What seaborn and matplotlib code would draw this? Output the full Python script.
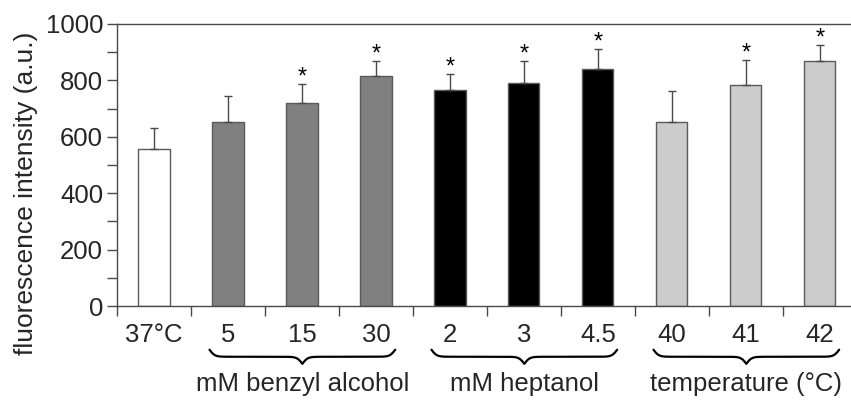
import numpy as np
import pandas as pd
import matplotlib
matplotlib.use("Agg")
import matplotlib.pyplot as plt
import matplotlib.transforms as mtransforms
import seaborn as sns

# Conditions and measurements
conditions = ["37°C", "5", "15", "30", "2", "3", "4.5", "40", "41", "42"]
mean_intensity = [557, 651, 721, 816, 767, 792, 842, 651, 785, 868]
sd_intensity = [75, 95, 66, 52, 56, 76, 69, 110, 88, 57]
significant = [False, False, True, True, True, True, True, False, True, True]
bar_colors = ["#ffffff", "#808080", "#808080", "#808080",
              "#000000", "#000000", "#000000",
              "#cccccc", "#cccccc", "#cccccc"]
groups = ["mM benzyl alcohol", "mM heptanol", "temperature (°C)"]
group_members = [(1, 3), (4, 6), (7, 9)]
yticks = [0, 200, 400, 600, 800, 1000]

sns.set_theme(style="ticks")
plt.rcParams["font.family"] = ["Liberation Sans", "DejaVu Sans"]

FS = 18.5

fig = plt.figure(figsize=(8.51, 4.03), dpi=100)
ax = fig.add_axes([117 / 851, 97 / 403, 734 / 851, 282 / 403])

df = pd.DataFrame({"condition": conditions, "intensity": mean_intensity})
sns.barplot(data=df, x="condition", y="intensity", hue="condition",
            palette=bar_colors, legend=False, width=0.42,
            edgecolor="#5a5a5a", linewidth=1.0, ax=ax, errorbar=None)

x = np.arange(len(conditions))
ax.errorbar(x, mean_intensity, yerr=[np.zeros(len(x)), sd_intensity],
            fmt="none", ecolor="#4a4a4a", elinewidth=1.0, capsize=3.2,
            capthick=1.0, zorder=1)

for xi, m, s, sig in zip(x, mean_intensity, sd_intensity, significant):
    if sig:
        ax.annotate("*", xy=(xi, m + s), xytext=(0, 0.5),
                    textcoords="offset points", ha="center", va="baseline",
                    fontsize=17, color="black")

ax.set_ylim(0, 1000)
ax.set_xlim(-0.5, 9.42)
ax.set_yticks(yticks)
ax.set_yticks(np.arange(100, 1000, 200), minor=True)
ax.set_xticks(x, conditions)
ax.set_xticks(np.arange(-0.5, 9.5, 1.0), minor=True)
ax.tick_params(axis="x", which="major", length=0, pad=12, labelsize=FS)
ax.tick_params(axis="x", which="minor", length=7, width=1.0, color="#4a4a4a")
ax.tick_params(axis="y", which="both", length=7, width=1.0, color="#4a4a4a",
               labelsize=FS, pad=3)
ax.set_xlabel("")
ax.set_ylabel("fluorescence intensity (a.u.)", fontsize=19)
ax.yaxis.set_label_coords(-0.108, 0.40)

for side in ["left", "bottom", "top"]:
    ax.spines[side].set_color("#4a4a4a")
    ax.spines[side].set_linewidth(1.0)
ax.spines["right"].set_visible(False)

# Curly braces grouping the treatment conditions
trans = mtransforms.blended_transform_factory(ax.transData, ax.transAxes)


def curly_brace(x0, x1, y_end, y_tip, beta=28.0, n=400):
    xs = np.linspace(x0, x1, n + 1)
    half = xs[: n // 2 + 1]
    yh = (1 / (1 + np.exp(-beta * (half - half[0])))
          + 1 / (1 + np.exp(-beta * (half - half[-1]))))
    ys = np.concatenate((yh, yh[-2::-1]))
    ys = y_end + (y_tip - y_end) * (ys - 0.5)
    ax.plot(xs, ys, color="black", lw=1.6, transform=trans, clip_on=False,
            solid_capstyle="round")


for (a, b), name in zip(group_members, groups):
    curly_brace(a - 0.25, b + 0.26, -0.155, -0.205)
    ax.text((a + b) / 2 + 0.005, -0.275, name, transform=trans, ha="center",
            va="center", fontsize=FS)

fig.savefig("out.png", dpi=100)
